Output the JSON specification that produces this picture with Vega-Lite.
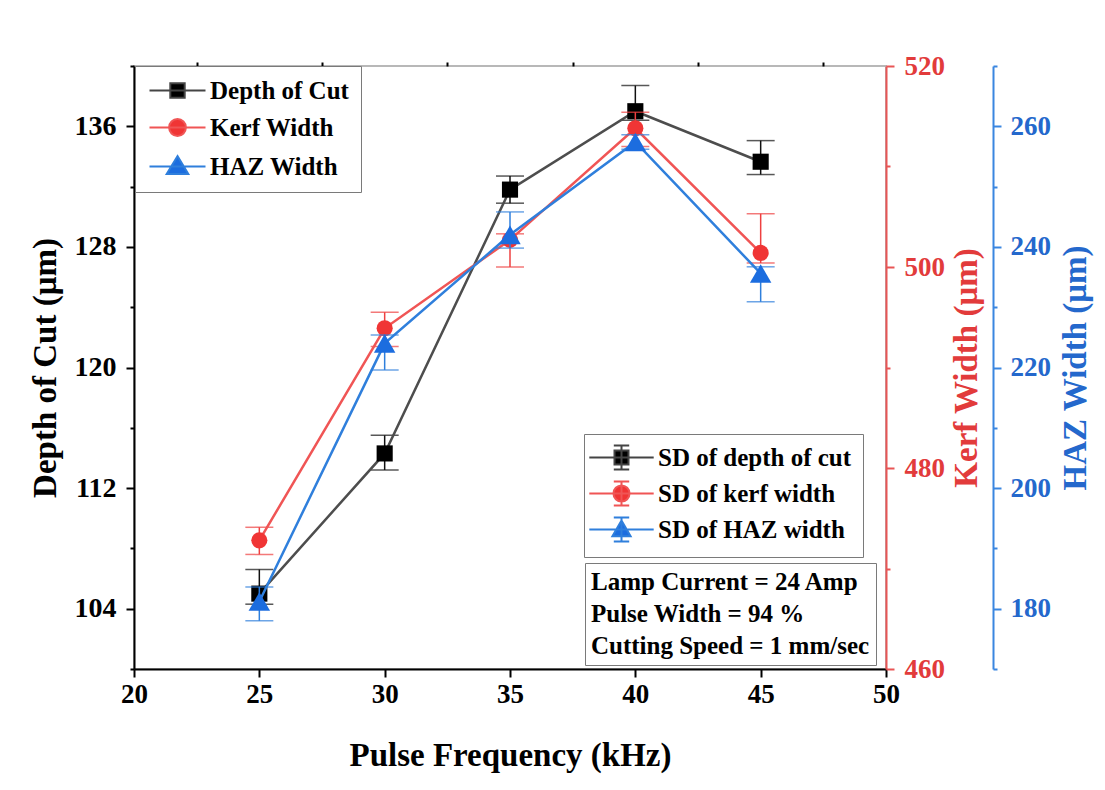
{
  "$schema": "https://vega.github.io/schema/vega-lite/v6.json",
  "width": 752,
  "height": 603,
  "autosize": {"type": "none"},
  "padding": {"left": 134, "top": 66, "right": 219, "bottom": 121},
  "background": "white",
  "config": {
    "view": {"stroke": "#b8b8b8", "strokeWidth": 2},
    "font": "Liberation Serif",
    "axis": {
      "grid": false,
      "labelFont": "Liberation Serif",
      "labelFontSize": 27,
      "labelFontWeight": "bold",
      "labelColor": "#000000",
      "labelFlush": false,
      "labelOverlap": false,
      "titleFont": "Liberation Serif",
      "titleFontSize": 33,
      "titleFontWeight": "bold",
      "titleColor": "#000000",
      "domainColor": "#000000",
      "domainWidth": 2,
      "tickColor": "#000000",
      "tickWidth": 2
    },
    "legend": {
      "labelFont": "Liberation Serif",
      "labelFontSize": 25,
      "labelFontWeight": "bold",
      "labelColor": "#000000",
      "labelLimit": 400,
      "strokeColor": "#7a7a7a",
      "fillColor": "white",
      "padding": 8,
      "symbolOpacity": 1,
      "orient": "none"
    }
  },
  "data": {
    "values": [
      {"freq": 25, "depth": 105.0, "depth_lo": 104.3, "depth_hi": 106.6, "kerf": 472.8, "kerf_lo": 471.4, "kerf_hi": 474.1, "haz": 181.2, "haz_lo": 178.0, "haz_hi": 183.6},
      {"freq": 30, "depth": 114.3, "depth_lo": 113.2, "depth_hi": 115.5, "kerf": 493.9, "kerf_lo": 492.1, "kerf_hi": 495.5, "haz": 224.0, "haz_lo": 219.6, "haz_hi": 225.4},
      {"freq": 35, "depth": 131.8, "depth_lo": 130.9, "depth_hi": 132.7, "kerf": 502.7, "kerf_lo": 500.0, "kerf_hi": 503.3, "haz": 242.0, "haz_lo": 239.8, "haz_hi": 245.8},
      {"freq": 40, "depth": 137.0, "depth_lo": 136.4, "depth_hi": 138.7, "kerf": 513.8, "kerf_lo": 512.0, "kerf_hi": 515.4, "haz": 257.4, "haz_lo": 256.2, "haz_hi": 258.6},
      {"freq": 45, "depth": 133.65, "depth_lo": 132.8, "depth_hi": 135.05, "kerf": 501.4, "kerf_lo": 500.4, "kerf_hi": 505.3, "haz": 235.6, "haz_lo": 230.9, "haz_hi": 236.7}
    ]
  },
  "resolve": {
    "scale": {"x": "independent", "y": "independent", "fill": "independent", "stroke": "independent", "shape": "independent"},
    "axis": {"x": "independent", "y": "independent"}
  },
  "layer": [
    {
      "mark": {"type": "rule", "color": "#111111", "strokeWidth": 1.5},
      "encoding": {
        "x": {"field": "freq", "type": "quantitative", "scale": {"domain": [20, 50], "nice": false},
              "axis": {"values": [20, 25, 30, 35, 40, 45, 50], "title": "Pulse Frequency (kHz)", "tickSize": 8, "labelPadding": 4, "titlePadding": 32}},
        "y": {"field": "depth_lo", "type": "quantitative", "scale": {"domain": [100, 140], "nice": false, "zero": false},
              "axis": {"orient": "left", "values": [104, 112, 120, 128, 136], "title": "Depth of Cut (μm)", "tickSize": 8, "labelPadding": 10, "titlePadding": 12, "labelFontSize": 28}},
        "y2": {"field": "depth_hi"}
      }
    },
    {
      "mark": {"type": "tick", "orient": "horizontal", "size": 28, "thickness": 1.5, "color": "#111111"},
      "encoding": {
        "x": {"field": "freq", "type": "quantitative", "scale": {"domain": [20, 50], "nice": false},
              "axis": {"values": [22.5, 27.5, 32.5, 37.5, 42.5, 47.5], "labels": false, "domain": false, "tickSize": 4, "title": null}},
        "y": {"field": "depth_lo", "type": "quantitative", "scale": {"domain": [100, 140], "nice": false, "zero": false},
              "axis": {"orient": "left", "values": [100, 108, 116, 124, 132, 140], "labels": false, "domain": false, "tickSize": 4, "title": null}}
      }
    },
    {
      "mark": {"type": "tick", "orient": "horizontal", "size": 28, "thickness": 1.5, "color": "#111111"},
      "encoding": {
        "x": {"field": "freq", "type": "quantitative", "scale": {"domain": [20, 50], "nice": false}, "axis": null},
        "y": {"field": "depth_hi", "type": "quantitative", "scale": {"domain": [100, 140], "nice": false, "zero": false}, "axis": null}
      }
    },
    {
      "mark": {"type": "line", "color": "#4d4d4d", "strokeWidth": 2.5},
      "encoding": {
        "x": {"field": "freq", "type": "quantitative", "scale": {"domain": [20, 50], "nice": false}, "axis": null},
        "y": {"field": "depth", "type": "quantitative", "scale": {"domain": [100, 140], "nice": false, "zero": false}, "axis": null}
      }
    },
    {
      "mark": {"type": "point", "shape": "square", "filled": true, "color": "#000000", "size": 260, "opacity": 1},
      "encoding": {
        "x": {"field": "freq", "type": "quantitative", "scale": {"domain": [20, 50], "nice": false}, "axis": null},
        "y": {"field": "depth", "type": "quantitative", "scale": {"domain": [100, 140], "nice": false, "zero": false}, "axis": null}
      }
    },
    {
      "mark": {"type": "rule", "color": "#ee4040", "strokeWidth": 1.5},
      "encoding": {
        "x": {"field": "freq", "type": "quantitative", "scale": {"domain": [20, 50], "nice": false}, "axis": null},
        "y": {"field": "kerf_lo", "type": "quantitative", "scale": {"domain": [460, 520], "nice": false, "zero": false},
              "axis": {"orient": "right", "values": [460, 480, 500, 520], "title": "Kerf Width (μm)", "titleAngle": 270, "titleBaseline": "top", "titlePadding": 6,
                       "tickSize": 8, "labelPadding": 10, "domainColor": "#e85555", "tickColor": "#e85555", "labelColor": "#e23b3b", "titleColor": "#e23b3b"}},
        "y2": {"field": "kerf_hi"}
      }
    },
    {
      "mark": {"type": "tick", "orient": "horizontal", "size": 28, "thickness": 1.5, "color": "#ee4040"},
      "encoding": {
        "x": {"field": "freq", "type": "quantitative", "scale": {"domain": [20, 50], "nice": false}, "axis": null},
        "y": {"field": "kerf_lo", "type": "quantitative", "scale": {"domain": [460, 520], "nice": false, "zero": false},
              "axis": {"orient": "right", "values": [470, 490, 510], "labels": false, "domain": false, "tickSize": 4, "title": null, "tickColor": "#e85555"}}
      }
    },
    {
      "mark": {"type": "tick", "orient": "horizontal", "size": 28, "thickness": 1.5, "color": "#ee4040"},
      "encoding": {
        "x": {"field": "freq", "type": "quantitative", "scale": {"domain": [20, 50], "nice": false}, "axis": null},
        "y": {"field": "kerf_hi", "type": "quantitative", "scale": {"domain": [460, 520], "nice": false, "zero": false}, "axis": null}
      }
    },
    {
      "mark": {"type": "line", "color": "#f05555", "strokeWidth": 2.5},
      "encoding": {
        "x": {"field": "freq", "type": "quantitative", "scale": {"domain": [20, 50], "nice": false}, "axis": null},
        "y": {"field": "kerf", "type": "quantitative", "scale": {"domain": [460, 520], "nice": false, "zero": false}, "axis": null}
      }
    },
    {
      "mark": {"type": "point", "shape": "circle", "filled": true, "color": "#f03535", "size": 260, "opacity": 1},
      "encoding": {
        "x": {"field": "freq", "type": "quantitative", "scale": {"domain": [20, 50], "nice": false}, "axis": null},
        "y": {"field": "kerf", "type": "quantitative", "scale": {"domain": [460, 520], "nice": false, "zero": false}, "axis": null}
      }
    },
    {
      "mark": {"type": "rule", "color": "#2f7fdc", "strokeWidth": 1.5},
      "encoding": {
        "x": {"field": "freq", "type": "quantitative", "scale": {"domain": [20, 50], "nice": false}, "axis": null},
        "y": {"field": "haz_lo", "type": "quantitative", "scale": {"domain": [170, 270], "nice": false, "zero": false},
              "axis": {"orient": "right", "offset": 107, "values": [180, 200, 220, 240, 260], "title": "HAZ Width (μm)", "titleAngle": 270, "titleBaseline": "top", "titlePadding": 9,
                       "tickSize": 8, "labelPadding": 9, "domainColor": "#3a86e0", "tickColor": "#3a86e0", "labelColor": "#2468cc", "titleColor": "#2468cc"}},
        "y2": {"field": "haz_hi"}
      }
    },
    {
      "mark": {"type": "tick", "orient": "horizontal", "size": 28, "thickness": 1.5, "color": "#2f7fdc"},
      "encoding": {
        "x": {"field": "freq", "type": "quantitative", "scale": {"domain": [20, 50], "nice": false}, "axis": null},
        "y": {"field": "haz_lo", "type": "quantitative", "scale": {"domain": [170, 270], "nice": false, "zero": false},
              "axis": {"orient": "right", "offset": 107, "values": [170, 190, 210, 230, 250, 270], "labels": false, "domain": false, "tickSize": 4, "title": null, "tickColor": "#3a86e0"}}
      }
    },
    {
      "mark": {"type": "tick", "orient": "horizontal", "size": 28, "thickness": 1.5, "color": "#2f7fdc"},
      "encoding": {
        "x": {"field": "freq", "type": "quantitative", "scale": {"domain": [20, 50], "nice": false}, "axis": null},
        "y": {"field": "haz_hi", "type": "quantitative", "scale": {"domain": [170, 270], "nice": false, "zero": false}, "axis": null}
      }
    },
    {
      "mark": {"type": "line", "color": "#2f7fdc", "strokeWidth": 2.5},
      "encoding": {
        "x": {"field": "freq", "type": "quantitative", "scale": {"domain": [20, 50], "nice": false}, "axis": null},
        "y": {"field": "haz", "type": "quantitative", "scale": {"domain": [170, 270], "nice": false, "zero": false}, "axis": null}
      }
    },
    {
      "mark": {"type": "point", "shape": "triangle-up", "filled": true, "color": "#1c6ddf", "size": 460, "opacity": 1},
      "encoding": {
        "x": {"field": "freq", "type": "quantitative", "scale": {"domain": [20, 50], "nice": false}, "axis": null},
        "y": {"field": "haz", "type": "quantitative", "scale": {"domain": [170, 270], "nice": false, "zero": false}, "axis": null}
      }
    },
    {
      "transform": [{"filter": "false"}],
      "mark": {"type": "point", "filled": true, "opacity": 1},
      "encoding": {
        "fill": {"field": "series", "type": "nominal",
                 "scale": {"domain": ["Depth of Cut", "Kerf Width", "HAZ Width"], "range": ["#000000", "#f03535", "#1c6ddf"]},
                 "legend": {"legendX": 1, "legendY": 0, "title": null, "symbolSize": 256, "symbolStrokeWidth": 2, "symbolOffset": 18, "labelOffset": 20, "rowPadding": 11, "padding": 12, "symbolOpacity": 1}},
        "stroke": {"field": "series", "type": "nominal",
                   "scale": {"domain": ["Depth of Cut", "Kerf Width", "HAZ Width"], "range": ["#444444", "#f05555", "#2f7fdc"]},
                   "legend": {"legendX": 1, "legendY": 0, "title": null, "symbolSize": 256, "symbolStrokeWidth": 2, "symbolOffset": 18, "labelOffset": 20, "rowPadding": 11, "padding": 12, "symbolOpacity": 1}},
        "shape": {"field": "series", "type": "nominal",
                  "scale": {"domain": ["Depth of Cut", "Kerf Width", "HAZ Width"],
                            "range": ["M-3.5,0H3.5M-0.9,-0.9H0.9V0.9H-0.9Z", "M-3.5,0H3.5M1.05,0A1.05,1.05,0,1,1,-1.05,0A1.05,1.05,0,1,1,1.05,0Z", "M-3.5,0H3.5M0,-1.3L1.35,0.95H-1.35Z"]},
                  "legend": {"legendX": 1, "legendY": 0, "title": null, "symbolSize": 256, "symbolStrokeWidth": 2, "symbolOffset": 18, "labelOffset": 20, "rowPadding": 11, "padding": 12, "symbolOpacity": 1}}
      }
    },
    {
      "transform": [{"filter": "false"}],
      "mark": {"type": "point", "filled": true, "opacity": 1},
      "encoding": {
        "fill": {"field": "sd", "type": "nominal",
                 "scale": {"domain": ["SD of depth of cut", "SD of kerf width", "SD of HAZ width"], "range": ["#000000", "#f03535", "#1c6ddf"]},
                 "legend": {"legendX": 450, "legendY": 368, "title": null, "symbolSize": 196, "symbolStrokeWidth": 2, "symbolOffset": 14, "labelOffset": 24, "rowPadding": 3, "padding": 11, "symbolOpacity": 1}},
        "stroke": {"field": "sd", "type": "nominal",
                   "scale": {"domain": ["SD of depth of cut", "SD of kerf width", "SD of HAZ width"], "range": ["#444444", "#f05555", "#2f7fdc"]},
                   "legend": {"legendX": 450, "legendY": 368, "title": null, "symbolSize": 196, "symbolStrokeWidth": 2, "symbolOffset": 14, "labelOffset": 24, "rowPadding": 3, "padding": 11, "symbolOpacity": 1}},
        "shape": {"field": "sd", "type": "nominal",
                  "scale": {"domain": ["SD of depth of cut", "SD of kerf width", "SD of HAZ width"],
                            "range": ["M-4.6,0H4.6M0,-1.7V1.7M-1.1,-1.7H1.1M-1.1,1.7H1.1M-1,-1H1V1H-1Z",
                                      "M-4.6,0H4.6M0,-1.7V1.7M-1.1,-1.7H1.1M-1.1,1.7H1.1M1.15,0A1.15,1.15,0,1,1,-1.15,0A1.15,1.15,0,1,1,1.15,0Z",
                                      "M-4.6,0H4.6M0,-1.7V1.7M-1.1,-1.7H1.1M-1.1,1.7H1.1M0,-1.3L1.3,0.95H-1.3Z"]},
                  "legend": {"legendX": 450, "legendY": 368, "title": null, "symbolSize": 196, "symbolStrokeWidth": 2, "symbolOffset": 14, "labelOffset": 24, "rowPadding": 3, "padding": 11, "symbolOpacity": 1}}
      }
    },
    {
      "transform": [{"filter": "false"}],
      "mark": {"type": "point"},
      "encoding": {
        "shape": {"field": "note", "type": "nominal",
                  "scale": {"domain": ["Lamp Current = 24 Amp", "Pulse Width = 94 %", "Cutting Speed = 1 mm/sec"], "range": ["circle", "circle", "circle"]},
                  "legend": {"legendX": 451, "legendY": 497, "title": null, "symbolSize": 0, "symbolStrokeWidth": 0, "symbolOpacity": 0, "symbolOffset": 0, "labelOffset": -25, "rowPadding": 6, "padding": 6}}
      }
    }
  ]
}
